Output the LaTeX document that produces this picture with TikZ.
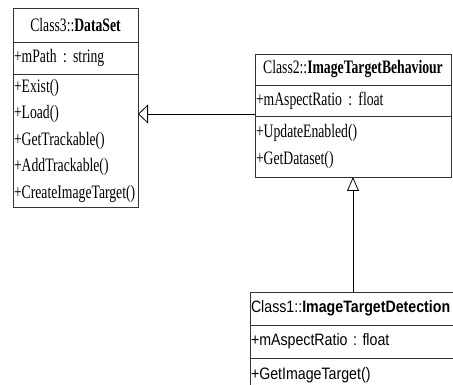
\documentclass[tikz,border=0pt]{standalone}
\usepackage{fontspec}
\setmainfont{Liberation Serif}
\newfontfamily\umlserif[FakeStretch=0.72,WordSpace=0.72]{Liberation Serif}
\newfontfamily\umlsans[FakeStretch=0.86,WordSpace=0.86]{Liberation Sans}
\usepackage{tikz}
\usetikzlibrary{positioning}
\usetikzlibrary{arrows.meta}
\frenchspacing

\begin{document}
\begin{tikzpicture}[x=1pt,y=1pt]
\tikzset{umlpart/.style={rectangle, draw=black!80, line width=0.9pt, inner xsep=1pt, inner ysep=0pt, outer sep=0pt, align=left}}
\tikzset{seriftext/.style={font=\umlserif\fontsize{19}{26.5}\selectfont}}
\tikzset{sanstext/.style={font=\umlsans\fontsize{16.5}{22}\selectfont}}
\tikzset{inherit/.style={draw=black, line width=0.8pt, -{Triangle[open, length=#1]}}}
\useasboundingbox (0,0) rectangle (453,-385);
\clip (0,0) rectangle (453,-385);
% Class3
\node[umlpart, seriftext, text width=123pt, minimum height=34pt, align=center, anchor=north west] (dsname) at (13,-8) {Class3::\textbf{DataSet}};
\node[umlpart, seriftext, text width=123pt, minimum height=32pt, below=0pt of dsname] (dsattr) {+mPath : string};
\node[umlpart, seriftext, text width=123pt, minimum height=133pt, below=0pt of dsattr] (dsops) {+Exist()\\+Load()\\+GetTrackable()\\+AddTrackable()\\+CreateImageTarget()};
% Class2
\node[umlpart, seriftext, text width=194pt, minimum height=31pt, align=center, anchor=north west] (itbname) at (255,-54) {Class2::\textbf{ImageTargetBehaviour}};
\node[umlpart, seriftext, text width=194pt, minimum height=31pt, below=0pt of itbname] (itbattr) {+mAspectRatio : float};
\node[umlpart, seriftext, text width=194pt, minimum height=61pt, below=0pt of itbattr] (itbops) {+UpdateEnabled()\\+GetDataset()};
% Class1
\node[umlpart, sanstext, text width=204pt, minimum height=33pt, anchor=north west] (itdname) at (250,-292) {Class1::\textbf{ImageTargetDetection}};
\node[umlpart, sanstext, text width=204pt, minimum height=33pt, below=0pt of itdname] (itdattr) {+mAspectRatio : float};
\node[umlpart, sanstext, text width=204pt, minimum height=34pt, below=0pt of itdattr] (itdops) {+GetImageTarget()};
% generalisations
\draw[inherit={10pt, width=19pt}] ([yshift=2pt]itbattr.south west) -- ([yshift=2pt]itbattr.south west -| dsops.east);
\draw[inherit={14pt, width=12pt}] (itdname.north) -- (itbops.south);
\end{tikzpicture}
\end{document}
